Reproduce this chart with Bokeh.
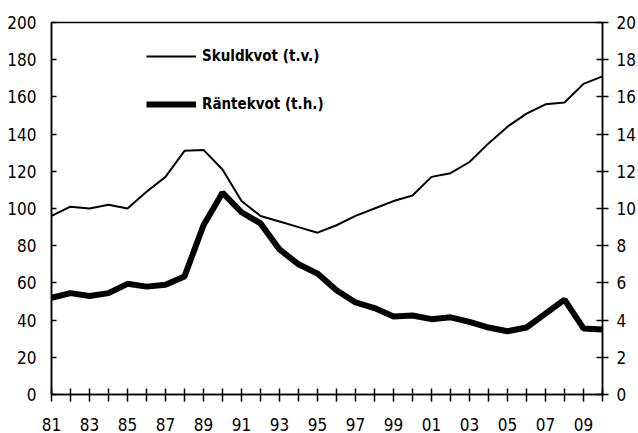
from bokeh.plotting import figure
from bokeh.models import Range1d, LinearAxis, FixedTicker, Legend, LegendItem
from bokeh.embed import file_html
from bokeh.resources import INLINE

years = list(range(1981, 2011))
skuldkvot = [96, 101, 100, 102, 100, 109, 117, 131, 131.5, 121,
             104, 96, 93, 90, 87, 91, 96, 100, 104, 107,
             117, 119, 125, 135, 144, 151, 156, 157, 167, 171]
rantekvot = [5.2, 5.45, 5.3, 5.45, 5.95, 5.8, 5.9, 6.35, 9.1, 10.85,
             9.8, 9.2, 7.8, 7.0, 6.5, 5.6, 4.95, 4.65, 4.2, 4.25,
             4.05, 4.15, 3.9, 3.6, 3.4, 3.6, 4.35, 5.1, 3.55, 3.5]
left_ticks = list(range(0, 201, 20))
right_ticks = list(range(0, 21, 2))
label_years = list(range(1981, 2010, 2))
minor_years = list(range(1982, 2011, 2))
year_labels = {y: f"{y % 100:02d}" for y in label_years}

FONT = "DejaVu Sans Condensed"

p = figure(width=638, height=433, output_backend="svg", toolbar_location=None,
           x_range=Range1d(1981, 2010), y_range=Range1d(0, 200),
           min_border_left=51, min_border_right=34, min_border_top=22, min_border_bottom=39)
p.extra_y_ranges = {"right": Range1d(0, 20)}
p.xgrid.visible = False
p.ygrid.visible = False
p.outline_line_color = "black"
p.outline_line_width = 1.5
p.background_fill_color = "white"
p.border_fill_color = "white"

l1 = p.line(years, skuldkvot, line_color="black", line_width=2)
l2 = p.line(years, rantekvot, line_color="black", line_width=6, y_range_name="right")

# x axis
xa = p.xaxis[0]
xa.ticker = FixedTicker(ticks=label_years, minor_ticks=minor_years)
xa.major_label_overrides = year_labels
xa.major_tick_in = 6
xa.major_tick_out = 7
xa.minor_tick_in = 6
xa.minor_tick_out = 7
xa.major_tick_line_width = 1.5
xa.minor_tick_line_width = 1.5
xa.axis_line_width = 1.5
xa.major_label_standoff = 16
xa.major_label_text_font = FONT
xa.major_label_text_font_size = "17px"
xa.major_label_text_color = "black"

# left axis
ya = p.yaxis[0]
ya.ticker = FixedTicker(ticks=left_ticks)
ya.minor_tick_line_color = None
ya.major_tick_in = 5
ya.major_tick_out = 0
ya.major_tick_line_width = 1.5
ya.axis_line_width = 1.5
ya.major_label_standoff = 15
ya.major_label_text_font = FONT
ya.major_label_text_font_size = "17px"
ya.major_label_text_color = "black"

# right axis
ra = LinearAxis(y_range_name="right", ticker=FixedTicker(ticks=right_ticks))
ra.minor_tick_line_color = None
ra.major_tick_in = 6
ra.major_tick_out = 6
ra.major_tick_line_width = 1.5
ra.axis_line_width = 1.5
ra.major_label_standoff = 8
ra.major_label_text_font = FONT
ra.major_label_text_font_size = "17px"
ra.major_label_text_color = "black"
p.add_layout(ra, "right")

legend = Legend(items=[LegendItem(label="Skuldkvot (t.v.)", renderers=[l1]),
                       LegendItem(label="Räntekvot (t.h.)", renderers=[l2])],
                location=(95, 280), orientation="vertical",
                glyph_width=50, glyph_height=20, label_height=20, label_standoff=6,
                spacing=28, padding=0, margin=0,
                border_line_color=None, background_fill_alpha=0,
                label_text_font=FONT, label_text_font_style="bold",
                label_text_font_size="15px", label_text_color="black")
p.add_layout(legend)

open("out.html", "w").write(file_html(p, INLINE))
